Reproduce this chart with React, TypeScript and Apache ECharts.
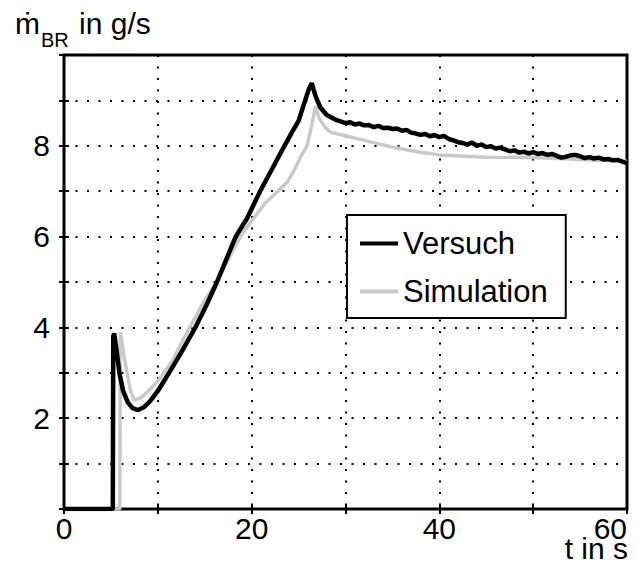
import React, { useEffect, useRef } from "react";
import * as echarts from "echarts";

// t in s, m_BR in g/s
const versuchT = [
  0, 5.2, 5.25, 5.35, 5.6, 5.9, 6.3, 6.8, 7.3, 7.9, 8.5, 9.2, 10, 11.2, 12.5, 14, 15.2, 16.3, 17.3, 18.3,
  19.5, 20.9, 22.2, 23.5, 24.3, 25, 25.7, 26.1, 26.4, 26.8, 27.3, 28, 29,
  30, 30.5, 31, 31.5, 32, 32.5, 33, 33.5, 34, 34.5, 35, 35.5, 36, 36.5, 37, 37.5, 38, 38.5, 39, 39.5,
  40, 40.5, 41, 41.5, 42, 42.5, 43, 43.5, 44, 44.5, 45, 45.5, 46, 46.5, 47, 47.5, 48, 48.5, 49, 49.5,
  50, 50.5, 51, 51.5, 52, 52.5, 53, 53.5, 54, 54.5, 55, 55.5, 56, 56.5, 57, 57.5, 58, 58.5, 59, 59.5, 60,
];
const versuchM = [
  0, 0, 3.8, 3.87, 3.5, 3.0, 2.6, 2.35, 2.22, 2.18, 2.24, 2.38, 2.6, 3.0, 3.45, 4.0, 4.5, 5.0, 5.5, 6.0,
  6.4, 7.0, 7.5, 8.0, 8.3, 8.55, 9.0, 9.25, 9.38, 9.1, 8.85, 8.68, 8.57,
  8.5, 8.52, 8.47, 8.49, 8.45, 8.46, 8.41, 8.44, 8.39, 8.4, 8.37, 8.38, 8.33, 8.35, 8.29, 8.27, 8.24, 8.26, 8.21, 8.24,
  8.19, 8.22, 8.15, 8.12, 8.08, 8.06, 8.03, 8.07, 8.0, 8.03, 7.97, 7.99, 7.94, 7.96, 7.92, 7.88, 7.9, 7.85, 7.87, 7.83,
  7.86, 7.82, 7.84, 7.8, 7.82, 7.78, 7.74, 7.76, 7.79, 7.8, 7.77, 7.73, 7.75, 7.72, 7.74, 7.7, 7.71, 7.68, 7.69, 7.65, 7.62,
];

const simT = [
  0, 5.95, 6.0, 6.3, 6.7, 7.1, 7.5, 8.2, 9, 10, 11.5, 13.4, 15, 16.3, 17.5, 18.8, 20, 21.5, 22.8, 23.8,
  24.5, 25.2, 25.9, 26.4, 26.8, 27.2, 27.8, 28.4, 30, 32, 35, 38, 40, 45, 50, 55, 60,
];
const simM = [
  0, 0, 3.9, 3.5, 3.0, 2.6, 2.4, 2.45, 2.6, 2.82, 3.25, 4.0, 4.6, 5.0, 5.5, 6.0, 6.35, 6.75, 7.0, 7.2,
  7.45, 7.75, 8.0, 8.45, 8.87, 8.6, 8.42, 8.3, 8.22, 8.12, 7.97, 7.86, 7.8, 7.75, 7.74, 7.7, 7.66,
];

const xTicksLabelled = [0, 20, 40, 60];
const yTicksLabelled = [2, 4, 6, 8];

const FONT = "Liberation Sans, Arial, sans-serif";

export default function App() {
  const ref = useRef<HTMLDivElement>(null);
  useEffect(() => {
    if (!ref.current) return;
    const chart = echarts.init(ref.current, undefined, { renderer: "svg" });
    const zip = (a: number[], b: number[]) => a.map((v, i) => [v, b[i]]);
    const dotted = { color: "#000", width: 2, type: [2, 9.5] as number[] };
    const tick = { show: true, inside: true, length: 5, lineStyle: { color: "#000", width: 2 } };
    chart.setOption({
      animation: false,
      backgroundColor: "#fff",
      grid: {
        left: 64,
        right: 13,
        top: 55,
        bottom: 56,
        show: true,
        borderColor: "#000",
        borderWidth: 3,
        backgroundColor: "transparent",
      },
      xAxis: [
        {
          type: "value",
          min: 0,
          max: 60,
          interval: 10,
          axisLine: { show: false },
          axisTick: tick,
          splitLine: { show: true, lineStyle: dotted },
          axisLabel: {
            color: "#000",
            fontSize: 30,
            lineHeight: 18,
            fontFamily: FONT,
            margin: 10,
            showMinLabel: true,
            showMaxLabel: true,
            alignMaxLabel: "right",
            formatter: (v: number) => (xTicksLabelled.includes(v) ? String(v) : ""),
          },
        },
        {
          type: "value",
          position: "top",
          min: 0,
          max: 60,
          interval: 10,
          axisLine: { show: false },
          axisTick: tick,
          splitLine: { show: false },
          axisLabel: { show: false },
        },
      ],
      yAxis: [
        {
          type: "value",
          min: 0,
          max: 10,
          interval: 1,
          axisLine: { show: false },
          axisTick: tick,
          splitLine: { show: true, lineStyle: dotted },
          axisLabel: {
            color: "#000",
            fontSize: 30,
            fontFamily: FONT,
            margin: 14,
            formatter: (v: number) => (yTicksLabelled.includes(v) ? String(v) : ""),
          },
        },
        {
          type: "value",
          position: "right",
          min: 0,
          max: 10,
          interval: 1,
          axisLine: { show: false },
          axisTick: tick,
          splitLine: { show: false },
          axisLabel: { show: false },
        },
      ],
      legend: {
        data: ["Versuch", "Simulation"],
        orient: "vertical",
        left: 347,
        top: 215,
        padding: [13, 18, 11, 13],
        itemGap: 17,
        itemWidth: 38,
        itemHeight: 4,
        icon: "rect",
        borderColor: "#000",
        borderWidth: 2,
        borderRadius: 0,
        backgroundColor: "#fff",
        textStyle: { color: "#000", fontSize: 31, fontFamily: FONT, lineHeight: 30 },
      },
      graphic: [
        {
          type: "text",
          left: 15,
          top: 8,
          style: {
            text: "{m|ṁ}{sub|BR}{m| in g/s}",
            fill: "#000",
            fontFamily: FONT,
            rich: {
              m: { fontSize: 30, fontFamily: FONT, fill: "#000", verticalAlign: "bottom", lineHeight: 30 },
              sub: {
                fontSize: 20,
                fontFamily: FONT,
                fill: "#000",
                verticalAlign: "bottom",
                lineHeight: 20,
                padding: [0, 2, -12, 1],
              },
            },
          },
        },
        {
          type: "text",
          right: 12,
          top: 533,
          style: { text: "t in s", fill: "#000", fontSize: 30, fontFamily: FONT },
        },
      ],
      series: [
        {
          name: "Simulation",
          type: "line",
          data: zip(simT, simM),
          symbol: "none",
          z: 2,
          lineStyle: { color: "#c9c9c9", width: 3.5 },
          itemStyle: { color: "#c9c9c9" },
        },
        {
          name: "Versuch",
          type: "line",
          data: zip(versuchT, versuchM),
          symbol: "none",
          z: 3,
          lineStyle: { color: "#000", width: 4.5 },
          itemStyle: { color: "#000" },
        },
      ],
    });
    return () => chart.dispose();
  }, []);
  return (
    <div
      ref={ref}
      style={{ position: "fixed", left: 0, top: 0, width: 640, height: 565, background: "#fff" }}
    />
  );
}
